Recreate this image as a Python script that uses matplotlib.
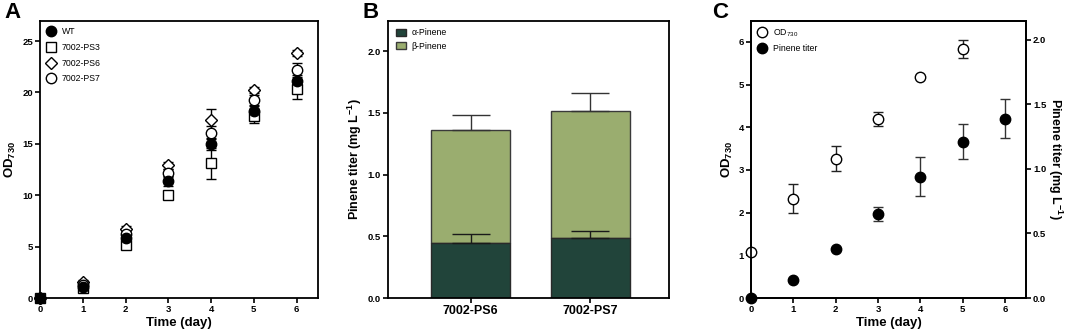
import matplotlib
matplotlib.use("Agg")
import matplotlib.pyplot as plt
import numpy as np

plt.rcParams['font.family'] = ['Liberation Sans', 'DejaVu Sans']
plt.rcParams['mathtext.fontset'] = 'custom'
plt.rcParams['mathtext.rm'] = 'Liberation Sans'
plt.rcParams['mathtext.bf'] = 'Liberation Sans:bold'
plt.rcParams['mathtext.it'] = 'Liberation Sans:italic'

# ---- Panel A data ----
days = [0, 1, 2, 3, 4, 5, 6]
wt = [0.0, 1.1, 5.8, 11.4, 15.0, 18.2, 21.1]
wt_err = [0.0, 0.2, 0.3, 0.5, 0.6, 0.5, 0.6]
ps3 = [0.0, 1.0, 5.2, 10.0, 13.1, 17.7, 20.3]
ps3_err = [0.0, 0.2, 0.3, 0.3, 1.5, 0.65, 0.9]
ps6 = [0.0, 1.6, 6.7, 12.9, 17.3, 20.2, 23.8]
ps6_err = [0.0, 0.2, 0.3, 0.3, 1.1, 0.3, 0.3]
ps7 = [0.0, 1.3, 6.2, 12.2, 16.1, 19.3, 22.2]
ps7_err = [0.0, 0.2, 0.3, 0.4, 0.6, 0.5, 0.7]

# ---- Panel B data ----
strains = ['7002-PS6', '7002-PS7']
alpha_pinene = [0.45, 0.49]
alpha_err = [0.07, 0.05]
beta_pinene = [0.91, 1.03]
total_err = [0.12, 0.14]

# ---- Panel C data ----
od_days = [0, 1, 2, 3, 4, 5]
od730 = [1.07, 2.33, 3.26, 4.19, 5.18, 5.83]
od730_err = [0.0, 0.33, 0.29, 0.16, 0.0, 0.22]
titer_days = [0, 1, 2, 3, 4, 5, 6]
titer = [0.0, 0.137, 0.376, 0.65, 0.94, 1.21, 1.39]
titer_err = [0.0, 0.0, 0.0, 0.055, 0.15, 0.135, 0.15]

W, H = 1065, 333
fig = plt.figure(figsize=(W / 100, H / 100), dpi=100)

def frac(l, r, t, b):
    return [l / W, 1 - b / H, (r - l) / W, (b - t) / H]

def style(ax):
    for s in ax.spines.values():
        s.set_linewidth(1.3)
    ax.tick_params(width=1.2, length=3.5, labelsize=6.8, pad=1.5)
    for lab in ax.get_xticklabels() + ax.get_yticklabels():
        lab.set_fontweight('bold')

OD_LABEL = r'$\mathbf{OD}_{\mathbf{730}}$'
TITER_LABEL = r'Pinene titer (mg L$^{\mathbf{-1}}$)'

# ---------- A ----------
axA = fig.add_axes(frac(40, 318, 20.5, 298))
ms = 7.5
series = [
    (ps3, ps3_err, 's', 'white', '7002-PS3'),
    (ps6, ps6_err, 'D', 'white', '7002-PS6'),
    (ps7, ps7_err, 'o', 'white', '7002-PS7'),
    (wt, wt_err, 'o', 'black', 'WT'),
]
handles = {}
for vals, err, mk, fc, lab in series:
    h = axA.errorbar(days, vals, yerr=err, fmt=mk, mfc=fc, mec='black', mew=1.0,
                     ms=(ms - 1.5 if mk == 'D' else ms), ecolor='black', elinewidth=1.0,
                     capsize=3.5, capthick=1.0, label=lab, clip_on=False, zorder=3)
    for art in h.lines[1] + h.lines[2]:
        art.set_clip_on(False)
    handles[lab] = h
axA.set_xlim(0, 6.5)
axA.set_ylim(0, 27)
axA.set_xticks(range(7))
axA.set_yticks([0, 5, 10, 15, 20, 25])
axA.set_xlabel('Time (day)', fontsize=9.5, fontweight='bold', labelpad=2)
axA.set_ylabel(OD_LABEL, fontsize=9.5, labelpad=3)
order = ['WT', '7002-PS3', '7002-PS6', '7002-PS7']
axA.legend([handles[k][0] for k in order], order, loc='upper left', frameon=False,
           fontsize=6.3, handlelength=1.0, handletextpad=0.7, labelspacing=0.75,
           borderaxespad=0.4)
style(axA)

# ---------- B ----------
axB = fig.add_axes(frac(388, 669, 20.5, 298))
x = np.arange(len(strains))
alpha_c = '#21443a'
beta_c = '#9aad6f'
bw = 0.66
axB.bar(x, alpha_pinene, width=bw, color=alpha_c, edgecolor='#2a2a2a', linewidth=1.0,
        label='α-Pinene', zorder=2)
axB.bar(x, beta_pinene, bottom=alpha_pinene, width=bw, color=beta_c, edgecolor='#3a3a3a',
        linewidth=1.0, label='β-Pinene', zorder=1)
totals = [a + b for a, b in zip(alpha_pinene, beta_pinene)]
axB.errorbar(x, totals, yerr=[np.zeros(2), total_err], fmt='none', ecolor='#333333',
             elinewidth=1.0, capsize=14, capthick=1.0, zorder=3)
axB.errorbar(x, alpha_pinene, yerr=[np.zeros(2), alpha_err], fmt='none', ecolor='#1a1a1a',
             elinewidth=1.0, capsize=14, capthick=1.0, zorder=3)
axB.set_xlim(-0.69, 1.66)
axB.set_ylim(0, 2.25)
axB.set_xticks(x)
axB.set_xticklabels(strains)
axB.set_yticks([0.0, 0.5, 1.0, 1.5, 2.0])
axB.set_yticklabels(['0.0', '0.5', '1.0', '1.5', '2.0'])
axB.set_ylabel(TITER_LABEL, fontsize=9, fontweight='bold', labelpad=3)
axB.legend(loc='upper left', frameon=False, fontsize=6.3, handlelength=1.2, handleheight=0.8,
           handletextpad=0.6, labelspacing=0.5, borderaxespad=0.5)
style(axB)
for lab in axB.get_xticklabels():
    lab.set_fontsize(9)

# ---------- C ----------
axC = fig.add_axes(frac(751, 1026, 20.5, 298))
axC2 = axC.twinx()
h1 = axC.errorbar(od_days, od730, yerr=od730_err, fmt='o', mfc='white', mec='black', mew=1.0,
                  ms=ms, ecolor='#222222', elinewidth=1.0, capsize=3.8, capthick=1.0,
                  clip_on=False, zorder=3)
h2 = axC2.errorbar(titer_days, titer, yerr=titer_err, fmt='o', mfc='black', mec='black',
                   ms=ms, ecolor='#333333', elinewidth=1.0, capsize=3.8, capthick=1.0,
                   clip_on=False, zorder=3)
for h in (h1, h2):
    for art in h.lines[1] + h.lines[2]:
        art.set_clip_on(False)
axC.set_xlim(0, 6.5)
axC.set_ylim(0, 6.5)
axC2.set_ylim(0, 2.15)
axC.set_xticks(range(7))
axC.set_yticks(range(7))
axC2.set_yticks([0.0, 0.5, 1.0, 1.5, 2.0])
axC2.set_yticklabels(['0.0', '0.5', '1.0', '1.5', '2.0'])
axC.set_xlabel('Time (day)', fontsize=9.5, fontweight='bold', labelpad=2)
axC.set_ylabel(OD_LABEL, fontsize=9.5, labelpad=3)
axC2.set_ylabel(TITER_LABEL, fontsize=9, fontweight='bold', rotation=270, labelpad=13)
axC.legend([h1[0], h2[0]], ['OD$_{730}$', 'Pinene titer'], loc='upper left', frameon=False,
           fontsize=6.3, handlelength=1.0, handletextpad=0.7, labelspacing=0.6, borderaxespad=0.4)
style(axC)
style(axC2)

# panel letters
for lx, letter in [(4, 'A'), (362, 'B'), (712, 'C')]:
    fig.text(lx / W, 1 - 2 / H, letter, fontsize=16, fontweight='bold', va='top', ha='left')

fig.savefig('out.png', dpi=100)
